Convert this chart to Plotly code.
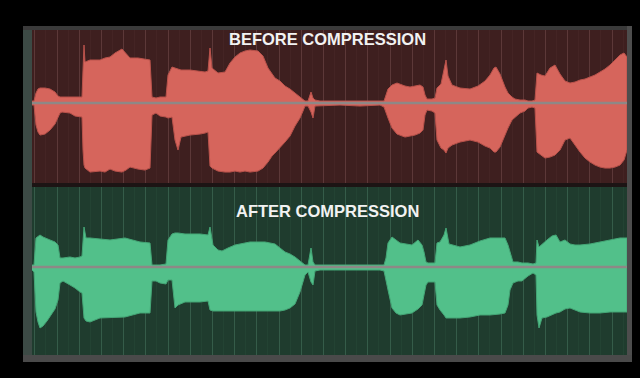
import plotly.graph_objects as go

# ---------------- data (time position, envelope amplitudes) ----------------
before_t = [32, 34, 36, 38, 40, 45, 50, 55, 58, 60, 62, 70, 75, 82, 83, 84, 85, 90, 100, 105, 110, 115, 122, 126,
            130, 138, 145, 150, 152, 156, 160, 166, 168, 172, 175, 178, 181, 190, 200, 205, 208, 210, 212, 218,
            225, 230, 235, 240, 245, 250, 258, 263, 268, 272, 275, 280, 285, 290, 295, 300, 303, 305, 308, 311,
            313, 315, 320, 340, 360, 380, 384, 386, 388, 392, 397, 405, 410, 415, 420, 423, 425, 427, 432, 435,
            437, 441, 444, 446, 448, 452, 460, 470, 478, 485, 490, 494, 496, 500, 505, 508, 512, 515, 520, 525,
            528, 532, 535, 537, 541, 545, 550, 555, 560, 565, 570, 575, 580, 585, 590, 595, 600, 605, 610, 615,
            620, 624, 627]
before_upper = [2, 2, 10, 14, 15, 15, 14, 11, 7, 6, 6, 6, 6, 6, 33, 58, 41, 43, 43, 45, 46, 50, 54, 49,
                45, 45, 44, 43, 6, 5, 6, 6, 28, 36, 35, 34, 33, 33, 32, 31, 32, 55, 35, 30,
                31, 40, 46, 50, 52, 53, 52, 47, 35, 29, 25, 22, 17, 14, 10, 6, 4, 2, 2, 11,
                5, 3, 2, 2, 2, 2, 2, 8, 14, 18, 20, 17, 16, 17, 18, 16, 8, 4, 4, 5,
                15, 19, 33, 43, 27, 18, 15, 14, 17, 22, 28, 35, 36, 29, 16, 10, 6, 4, 3, 3,
                2, 2, 3, 30, 28, 27, 35, 38, 29, 22, 20, 21, 23, 24, 26, 28, 31, 34, 38, 43,
                48, 50, 46]
before_lower = [-2, -2, -22, -29, -32, -31, -27, -21, -15, -10, -9, -10, -13, -14, -47, -62, -65, -69, -68, -69,
                -66, -68, -69, -67, -64, -66, -67, -65, -12, -10, -13, -14, -15, -14, -37, -47, -34, -32, -31,
                -30, -29, -63, -65, -68, -69, -69, -68, -69, -68, -69, -68, -65, -59, -53, -50, -45, -39, -33,
                -23, -15, -8, -3, -3, -9, -15, -3, -3, -2, -3, -2, -4, -9, -15, -25, -31, -34, -33, -32, -30,
                -27, -12, -7, -8, -10, -37, -45, -47, -50, -45, -42, -39, -37, -39, -43, -45, -49, -49, -44,
                -32, -25, -17, -14, -10, -8, -5, -4, -5, -49, -52, -55, -54, -52, -47, -37, -35, -42, -49, -55,
                -59, -62, -64, -65, -65, -64, -62, -57, -47]

after_t = [32, 34, 36, 38, 40, 43, 47, 50, 55, 58, 60, 63, 70, 75, 80, 82, 84, 86, 90, 100, 110, 125, 140, 150,
           152, 156, 160, 166, 168, 172, 175, 178, 185, 200, 208, 210, 213, 218, 222, 228, 235, 250, 265, 275,
           280, 285, 290, 295, 300, 303, 305, 308, 311, 313, 315, 320, 340, 360, 380, 384, 386, 388, 392, 396,
           400, 406, 412, 418, 422, 424, 426, 428, 435, 437, 440, 444, 446, 449, 455, 460, 470, 480, 490, 500,
           505, 508, 510, 513, 518, 522, 528, 533, 536, 537, 539, 542, 547, 552, 556, 560, 565, 570, 575, 580,
           590, 600, 610, 620, 627]
after_upper = [2, 2, 29, 31, 32, 30, 28, 27, 25, 22, 9, 9, 10, 9, 10, 11, 40, 29, 29, 28, 27, 29, 25, 24,
               2, 2, 2, 3, 27, 33, 34, 34, 33, 33, 32, 40, 22, 17, 16, 19, 22, 25, 25, 23,
               19, 15, 13, 10, 6, 3, 2, 2, 19, 5, 2, 2, 2, 2, 2, 2, 9, 24, 30, 27,
               24, 23, 22, 27, 22, 15, 5, 4, 4, 24, 25, 32, 39, 23, 21, 20, 22, 26, 29, 29,
               29, 22, 15, 5, 5, 4, 4, 3, 4, 27, 20, 23, 27, 31, 32, 25, 27, 23, 22, 22,
               23, 25, 27, 29, 29]
after_lower = [-3, -5, -45, -55, -61, -59, -54, -50, -42, -33, -16, -14, -18, -21, -25, -26, -51, -54, -55, -51,
               -51, -50, -46, -46, -14, -14, -16, -17, -13, -13, -41, -38, -35, -35, -34, -43, -44, -44, -44,
               -44, -44, -44, -44, -44, -44, -43, -41, -37, -25, -15, -8, -5, -15, -18, -4, -3, -3, -3, -3,
               -4, -13, -23, -41, -46, -48, -47, -46, -42, -38, -28, -18, -15, -15, -38, -43, -48, -51, -51,
               -51, -51, -50, -48, -48, -47, -46, -38, -23, -16, -14, -14, -9, -6, -8, -48, -61, -51, -50,
               -48, -46, -45, -42, -41, -43, -45, -46, -46, -45, -45, -45]

panel_titles = ["BEFORE COMPRESSION", "AFTER COMPRESSION"]

# ---------------- styles ----------------
RED_BG, RED_GRID, RED_MINOR, RED_FILL, RED_EDGE = "#3e1f1f", "#5c3838", "#442424", "#d6655c", "#b9524b"
GRN_BG, GRN_GRID, GRN_MINOR, GRN_FILL, GRN_EDGE = "#1f3c2e", "#355c49", "#234333", "#52c08a", "#44a676"

fig = go.Figure()


def envelope(t, up, lo, xa, ya, fill, edge):
    fig.add_trace(go.Scatter(
        x=list(t) + list(t)[::-1], y=list(up) + list(lo)[::-1],
        fill="toself", fillcolor=fill, mode="lines",
        line=dict(color=edge, width=1), xaxis=xa, yaxis=ya,
        hoverinfo="skip", showlegend=False))
    # center line drawn over the waveform
    fig.add_trace(go.Scatter(
        x=[t[0] - 10, t[-1] + 10], y=[0, 0], mode="lines",
        line=dict(color="#8e8886", width=2.5), xaxis=xa, yaxis=ya,
        hoverinfo="skip", showlegend=False))


envelope(before_t, before_upper, before_lower, "x", "y", RED_FILL, RED_EDGE)
envelope(after_t, after_upper, after_lower, "x2", "y2", GRN_FILL, GRN_EDGE)

xcommon = dict(range=[32, 627], showticklabels=False, ticks="", zeroline=False,
               showgrid=True, tick0=57, dtick=22.2, gridwidth=1, showline=False,
               fixedrange=True)

fig.update_layout(
    width=640, height=378,
    paper_bgcolor="black", plot_bgcolor="rgba(0,0,0,0)",
    margin=dict(l=32, r=13, t=30, b=23),
    showlegend=False,
    xaxis=dict(**xcommon, anchor="y", gridcolor=RED_GRID,
               minor=dict(showgrid=True, dtick=11.1, tick0=57, gridcolor=RED_MINOR, gridwidth=1)),
    yaxis=dict(domain=[0.529, 1], range=[-80, 73], showticklabels=False, showgrid=False,
               zeroline=False, ticks="", fixedrange=True),
    xaxis2=dict(**xcommon, anchor="y2", gridcolor=GRN_GRID,
                minor=dict(showgrid=True, dtick=11.1, tick0=57, gridcolor=GRN_MINOR, gridwidth=1)),
    yaxis2=dict(domain=[0, 0.517], range=[-88, 80], showticklabels=False, showgrid=False,
                zeroline=False, ticks="", fixedrange=True),
)

shapes = [
    dict(type="rect", xref="x domain", yref="y domain", x0=0, x1=1, y0=0, y1=1,
         fillcolor=RED_BG, line_width=0, layer="below"),
    dict(type="rect", xref="x2 domain", yref="y2 domain", x0=0, x1=1, y0=0, y1=1,
         fillcolor=GRN_BG, line_width=0, layer="below"),
    # frame: left strip
    dict(type="rect", xref="paper", yref="paper", x0=-9 / 595, x1=0, y0=-7 / 325, y1=1 + 4 / 325,
         fillcolor="#3c4a45", line_width=0, layer="above"),
    # top strip
    dict(type="rect", xref="paper", yref="paper", x0=-9 / 595, x1=1 + 5 / 595, y0=1, y1=1 + 4 / 325,
         fillcolor="#3a3a3a", line_width=0, layer="above"),
    # right strip
    dict(type="rect", xref="paper", yref="paper", x0=1, x1=1 + 5 / 595, y0=-7 / 325, y1=1 + 4 / 325,
         fillcolor="#4d4d4d", line_width=0, layer="above"),
    # bottom strip
    dict(type="rect", xref="paper", yref="paper", x0=-9 / 595, x1=1 + 5 / 595, y0=-7 / 325, y1=0,
         fillcolor="#4a4a4a", line_width=0, layer="above"),
    # separator between panels
    dict(type="rect", xref="paper", yref="paper", x0=0, x1=1, y0=0.517, y1=0.529,
         fillcolor="#1c1414", line_width=0, layer="above"),
]
fig.update_layout(shapes=shapes)

for title, ypos in zip(panel_titles, [0.972, 0.443]):
    fig.add_annotation(text="<b>" + title + "</b>", xref="paper", yref="paper",
                       x=0.4965, y=ypos, xanchor="center", yanchor="middle", showarrow=False,
                       font=dict(family="Liberation Sans, Arial, sans-serif", size=16.5, color="#f2f2f2"))

fig.write_html("out.html", config={"displayModeBar": False},
               post_script="document.body.style.margin='0';document.body.style.background='black';")
